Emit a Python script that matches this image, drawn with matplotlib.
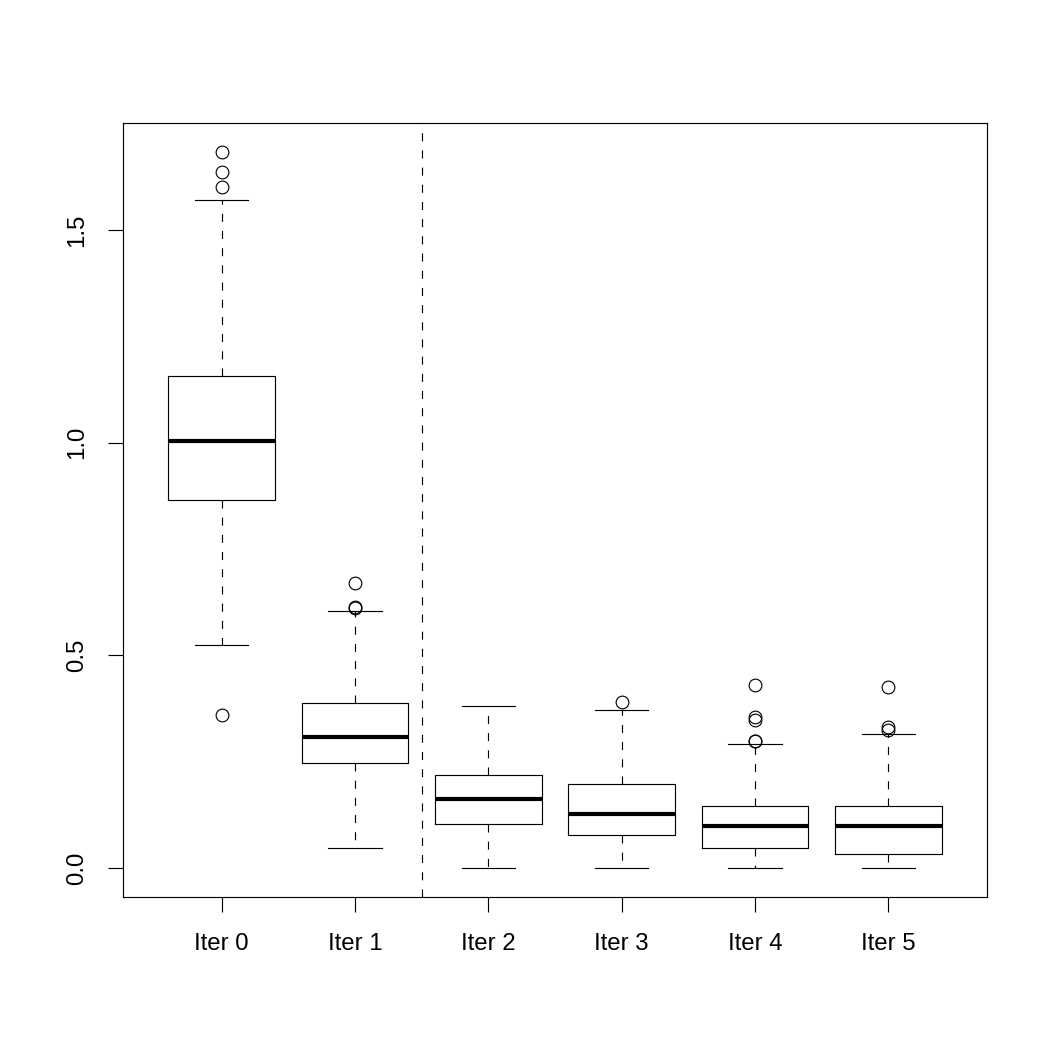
import matplotlib
matplotlib.use("Agg")
import matplotlib.pyplot as plt

labels = ["Iter 0", "Iter 1", "Iter 2", "Iter 3", "Iter 4", "Iter 5"]
whislo = [0.524, 0.048, 0.0, 0.0, 0.0, 0.0]
q1 = [0.865, 0.247, 0.1035, 0.0783, 0.047, 0.0322]
med = [1.005, 0.308, 0.1622, 0.1262, 0.098, 0.098]
q3 = [1.156, 0.389, 0.2186, 0.1975, 0.1451, 0.1451]
whishi = [1.5705, 0.605, 0.381, 0.3716, 0.2915, 0.315]
fliers = [
    [1.684, 1.636, 1.602, 0.3597],
    [0.6708, 0.6143, 0.612],
    [],
    [0.3911],
    [0.4303, 0.355, 0.3488, 0.2986, 0.2975],
    [0.4255, 0.3323, 0.3244],
]

plt.rcParams['font.family'] = ['Liberation Sans', 'DejaVu Sans']

fig = plt.figure(figsize=(7, 7), dpi=150)
ax = fig.add_axes([0.1171, 0.1457, 0.8229, 0.7372])

stats = []
for i in range(len(labels)):
    stats.append(dict(whislo=whislo[i], q1=q1[i], med=med[i], q3=q3[i],
                      whishi=whishi[i], fliers=fliers[i], label=labels[i]))

lw = 0.55
ax.bxp(stats, positions=range(1, 7), widths=0.8, showfliers=True,
       boxprops=dict(color='black', linewidth=lw),
       medianprops=dict(color='black', linewidth=2.0, solid_capstyle='butt'),
       whiskerprops=dict(color='black', linewidth=lw, linestyle=(0, (7, 8))),
       capprops=dict(color='black', linewidth=lw),
       capwidths=0.4,
       flierprops=dict(marker='o', markersize=6.1, markerfacecolor='none',
                       markeredgecolor='black', markeredgewidth=lw, linestyle='none'))

ax.axvline(2.5, color='black', linewidth=lw, linestyle=(0, (7, 8)))

ax.set_xlim(0.26, 6.74)
ax.set_ylim(-0.0682, 1.7516)
ax.set_yticks([0.0, 0.5, 1.0, 1.5])
ax.set_yticklabels(["0.0", "0.5", "1.0", "1.5"], rotation=90, va='center')
ax.set_xticks(range(1, 7))
ax.set_xticklabels(labels)
ax.tick_params(axis='both', direction='out', length=7.2, width=lw, labelsize=11.5)
ax.tick_params(axis='x', pad=10)
ax.tick_params(axis='y', pad=9.5)
for s in ax.spines.values():
    s.set_linewidth(lw)

fig.savefig("out.png", dpi=150)
